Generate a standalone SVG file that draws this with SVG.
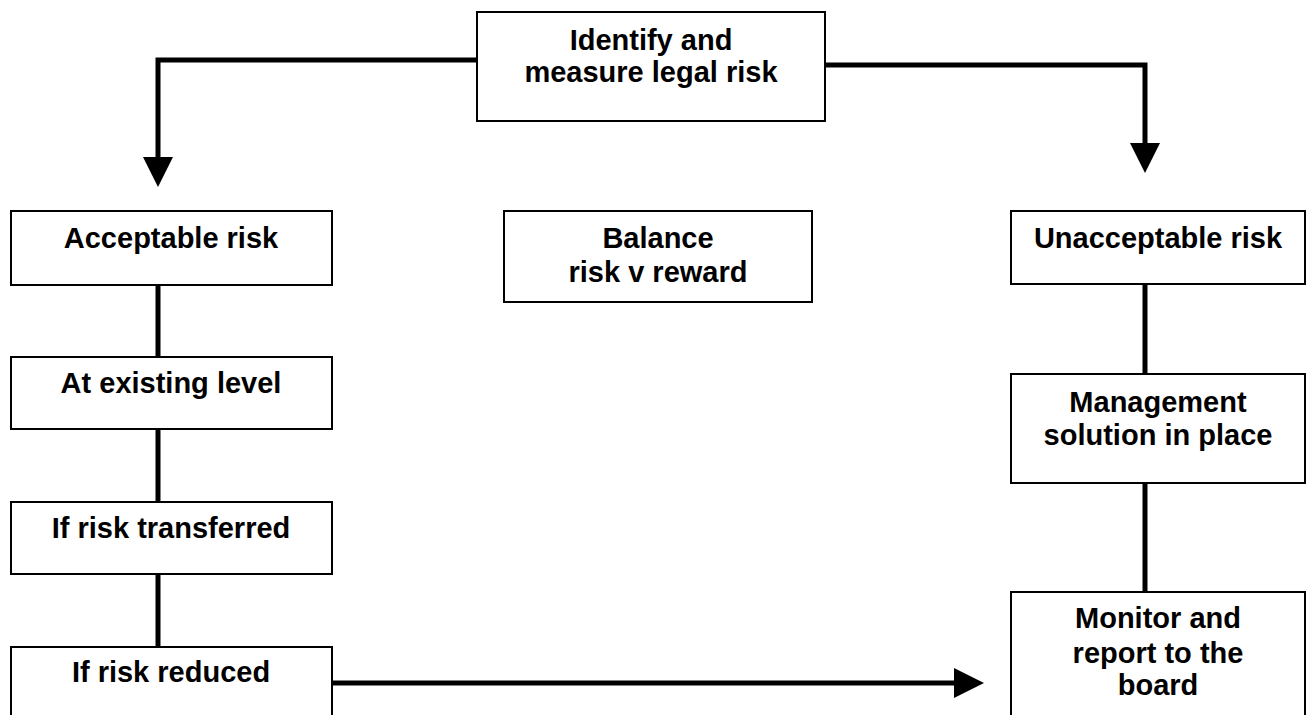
<svg xmlns="http://www.w3.org/2000/svg" width="1310" height="715" viewBox="0 0 1310 715">
<style>
.box{fill:#fff;stroke:#000;stroke-width:2}
.lbl{font-family:"Liberation Sans",Arial,sans-serif;font-weight:bold;font-size:29px;fill:#000;text-anchor:middle}
.con{fill:none;stroke:#000;stroke-width:5;stroke-linejoin:miter;stroke-linecap:butt}
</style>
<defs>
<marker id="arr" markerUnits="userSpaceOnUse" markerWidth="31" markerHeight="31" refX="0" refY="15" orient="auto" viewBox="0 0 31 30" overflow="visible">
<path d="M0,0 L30,15 L0,30 Z" fill="#000"/>
</marker>
</defs>
<rect width="1310" height="715" fill="#fff"/>
<g id="connectors">
<path class="con" d="M477,60 H158 V157" marker-end="url(#arr)"/>
<path class="con" d="M825,65 H1145 V143" marker-end="url(#arr)"/>
<path class="con" d="M332,683 H954" marker-end="url(#arr)"/>
<path class="con" d="M158,285 V357"/>
<path class="con" d="M158,429 V502"/>
<path class="con" d="M158,574 V647"/>
<path class="con" d="M1145,284 V374"/>
<path class="con" d="M1145,483 V592"/>
</g>
<g id="identify">
<rect class="box" x="477" y="12" width="348" height="109"/>
<text class="lbl" x="651" y="50">Identify and</text>
<text class="lbl" x="651" y="82">measure legal risk</text>
</g>
<g id="acceptable">
<rect class="box" x="11" y="211" width="321" height="74"/>
<text class="lbl" x="171" y="248">Acceptable risk</text>
</g>
<g id="balance">
<rect class="box" x="504" y="211" width="308" height="91"/>
<text class="lbl" x="658" y="248">Balance</text>
<text class="lbl" x="658" y="282">risk v reward</text>
</g>
<g id="unacceptable">
<rect class="box" x="1011" y="211" width="294" height="73"/>
<text class="lbl" x="1158" y="248">Unacceptable risk</text>
</g>
<g id="existing">
<rect class="box" x="11" y="357" width="321" height="72"/>
<text class="lbl" x="171" y="393">At existing level</text>
</g>
<g id="transferred">
<rect class="box" x="11" y="502" width="321" height="72"/>
<text class="lbl" x="171" y="538">If risk transferred</text>
</g>
<g id="reduced">
<rect class="box" x="11" y="647" width="321" height="90"/>
<text class="lbl" x="171" y="682">If risk reduced</text>
</g>
<g id="management">
<rect class="box" x="1011" y="374" width="294" height="109"/>
<text class="lbl" x="1158" y="412">Management</text>
<text class="lbl" x="1158" y="445">solution in place</text>
</g>
<g id="monitor">
<rect class="box" x="1011" y="592" width="294" height="140"/>
<text class="lbl" x="1158" y="628">Monitor and</text>
<text class="lbl" x="1158" y="663">report to the</text>
<text class="lbl" x="1158" y="695">board</text>
</g>
</svg>
